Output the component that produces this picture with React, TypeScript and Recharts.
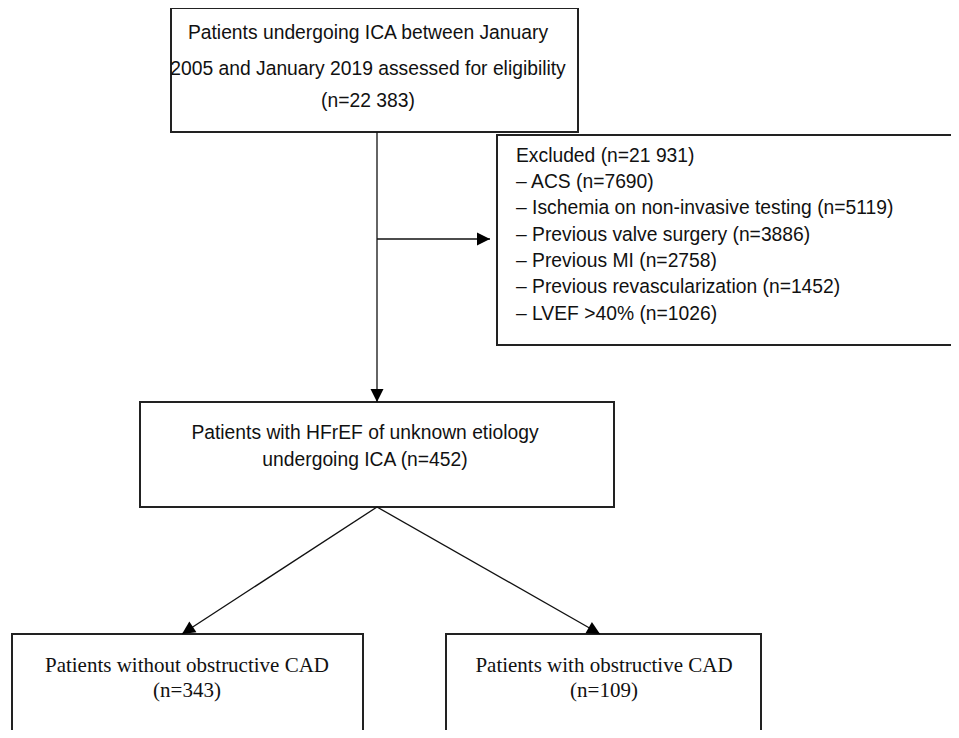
import { ScatterChart, Scatter, XAxis, YAxis, ReferenceArea, ReferenceLine, ReferenceDot } from "recharts";

// flow counts and labels
const screenedLines = ["Patients undergoing ICA between January", "2005 and January 2019 assessed for eligibility"];
const screenedCount = "22 383";
const excludedCount = "21 931";
const exclusionReasons = [
    "ACS",
    "Ischemia on non-invasive testing",
    "Previous valve surgery",
    "Previous MI",
    "Previous revascularization",
    "LVEF >40%",
];
const exclusionCounts = [7690, 5119, 3886, 2758, 1452, 1026];
const cohortLines = ["Patients with HFrEF of unknown etiology", "undergoing ICA"];
const cohortCount = 452;
const groupLabels = ["Patients without obstructive CAD", "Patients with obstructive CAD"];
const groupCounts = [343, 109];

const W = 959;
const H = 738;
const SANS = "'Liberation Sans', Arial, Helvetica, sans-serif";
const SERIF = "'Liberation Serif', 'Times New Roman', serif";
const SANS_SIZE = 19.3;
const SERIF_SIZE = 21;

// box layout (pixel space, domain matches chart size)
const boxes = {
    screened: { x1: 171, x2: 578, y1: 8, y2: 132 },
    excluded: { x1: 497, x2: 958.5, y1: 135, y2: 345 },
    cohort: { x1: 140, x2: 614, y1: 402, y2: 507 },
    groupA: { x1: 12, x2: 363, y1: 634, y2: 745 },
    groupB: { x1: 446, x2: 761, y1: 634, y2: 745 },
};

const arrows = [
    { from: { x: 377, y: 132 }, to: { x: 377, y: 402 } },
    { from: { x: 377, y: 239 }, to: { x: 490, y: 239 } },
    { from: { x: 377, y: 507 }, to: { x: 182, y: 634 } },
    { from: { x: 377, y: 507 }, to: { x: 600, y: 634 } },
];

type TextItem = { x: number; y: number; text: string; anchor: string; font: string; size: number };

const texts: TextItem[] = [
    { x: 368, y: 32, text: screenedLines[0], anchor: "middle", font: SANS, size: SANS_SIZE },
    { x: 368, y: 68, text: screenedLines[1], anchor: "middle", font: SANS, size: SANS_SIZE },
    { x: 368, y: 100, text: `(n=${screenedCount})`, anchor: "middle", font: SANS, size: SANS_SIZE },
    { x: 516, y: 155, text: `Excluded (n=${excludedCount})`, anchor: "start", font: SANS, size: SANS_SIZE },
    ...exclusionReasons.map((r, i) => ({
        x: 516,
        y: 181.5 + i * 26.3,
        text: `\u2013 ${r} (n=${exclusionCounts[i]})`,
        anchor: "start",
        font: SANS,
        size: SANS_SIZE,
    })),
    { x: 365, y: 432, text: cohortLines[0], anchor: "middle", font: SANS, size: SANS_SIZE },
    { x: 365, y: 459, text: `${cohortLines[1]} (n=${cohortCount})`, anchor: "middle", font: SANS, size: SANS_SIZE },
    { x: 187, y: 665, text: groupLabels[0], anchor: "middle", font: SERIF, size: SERIF_SIZE },
    { x: 187, y: 690, text: `(n=${groupCounts[0]})`, anchor: "middle", font: SERIF, size: SERIF_SIZE },
    { x: 604, y: 665, text: groupLabels[1], anchor: "middle", font: SERIF, size: SERIF_SIZE },
    { x: 604, y: 690, text: `(n=${groupCounts[1]})`, anchor: "middle", font: SERIF, size: SERIF_SIZE },
];

const TextShape = (props: any) => {
    const { cx, cy, payload } = props;
    return (
        <text
            x={cx}
            y={cy}
            textAnchor={payload.anchor}
            dominantBaseline="central"
            fontFamily={payload.font}
            fontSize={payload.size}
            fill="#111"
        >
            {payload.text}
        </text>
    );
};

const arrowHead = (angle: number) => (props: any) => {
    const { cx, cy } = props;
    return (
        <polygon
            points="0,0 -13,-6.5 -13,6.5"
            fill="#000"
            transform={`translate(${cx},${cy}) rotate(${angle})`}
        />
    );
};

const App = () => {
    return (
        <div style={{ margin: -8, width: W, height: H, background: "#fff" }}>
            <ScatterChart width={W} height={H} margin={{ top: 0, right: 0, bottom: 0, left: 0 }}>
                <XAxis type="number" dataKey="x" domain={[0, W]} allowDataOverflow hide />
                <YAxis type="number" dataKey="y" domain={[0, H]} allowDataOverflow reversed hide />

                {/* arrows */}
                {arrows.map((a, i) => (
                    <ReferenceLine
                        key={`l${i}`}
                        segment={[a.from, a.to]}
                        stroke="#111"
                        strokeWidth={1.3}
                        ifOverflow="visible"
                    />
                ))}

                {/* boxes */}
                {Object.entries(boxes).map(([k, b]) => (
                    <ReferenceArea
                        key={k}
                        x1={b.x1}
                        x2={b.x2}
                        y1={b.y1}
                        y2={b.y2}
                        fill="#fff"
                        fillOpacity={1}
                        stroke="#222"
                        strokeWidth={2}
                        ifOverflow="visible"
                    />
                ))}

                {arrows.map((a, i) => {
                    const ang = (Math.atan2(a.to.y - a.from.y, a.to.x - a.from.x) * 180) / Math.PI;
                    return (
                        <ReferenceDot
                            key={`h${i}`}
                            x={a.to.x}
                            y={a.to.y}
                            r={6}
                            ifOverflow="visible"
                            shape={arrowHead(ang)}
                        />
                    );
                })}

                <Scatter data={texts} shape={TextShape} isAnimationActive={false} />
            </ScatterChart>
        </div>
    );
};

export default App;
